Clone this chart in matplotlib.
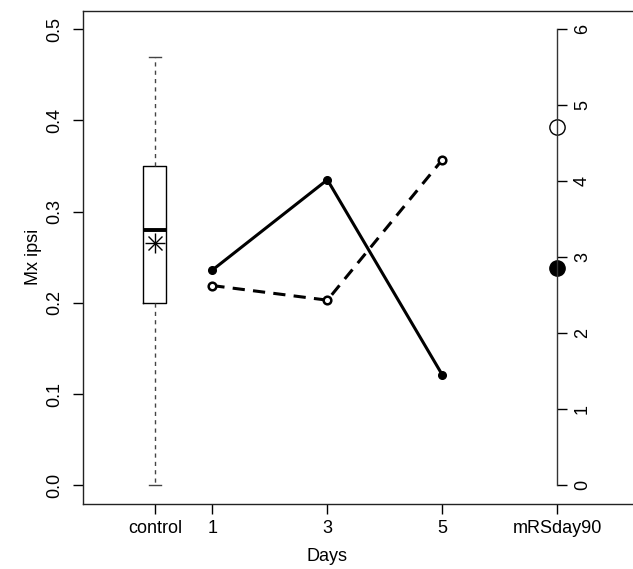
import matplotlib
matplotlib.use("Agg")
import matplotlib.pyplot as plt

plt.rcParams['font.family'] = ['Liberation Sans', 'DejaVu Sans']

# control boxplot summary (Mx ipsi)
ctrl_stats = {'whislo': 0.0, 'q1': 0.20, 'med': 0.28, 'q3': 0.35, 'whishi': 0.47}
ctrl_mean = 0.266

days = [1, 3, 5]
mx_solid = [0.236, 0.335, 0.121]
mx_dashed = [0.219, 0.203, 0.357]

# mRS day 90 (right axis scale)
mrs_open = 4.71
mrs_filled = 2.86

xticks_pos = [0, 1, 3, 5, 7]
xticks_lab = ['control', '1', '3', '5', 'mRSday90']

W, H = 633, 569
fig = plt.figure(figsize=(W / 100, H / 100), dpi=100)
ax = fig.add_axes([83 / W, 1 - 503.6 / H, (643.6 - 83) / W, (503.6 - 11) / H])

ax.bxp([dict(ctrl_stats, fliers=[])], positions=[0], widths=0.4, showfliers=False,
       boxprops=dict(color='black', linewidth=1),
       medianprops=dict(color='black', linewidth=2.8),
       whiskerprops=dict(color='#444444', linewidth=1, linestyle=(0, (3, 3))),
       capprops=dict(color='#444444', linewidth=1), capwidths=0.22)
ax.plot([0], [ctrl_mean], marker='+', ms=14, mew=1, color='black')
ax.plot([0], [ctrl_mean], marker='x', ms=10, mew=1, color='black')

ax.plot(days, mx_solid, color='black', lw=2.2, marker='o', ms=5.5,
        markerfacecolor='black', markeredgecolor='black')
ax.plot(days, mx_dashed, color='black', lw=2.2, linestyle=(0, (4, 2.7)), marker='o', ms=5.5,
        markerfacecolor='white', markeredgecolor='black', mew=1.8)

xlim = (-1.25, 8.5)
ax.set_xlim(xlim)
ax.set_ylim(-0.02, 0.52)
ax.set_yticks([0.0, 0.1, 0.2, 0.3, 0.4, 0.5])
ax.set_yticklabels(['0.0', '0.1', '0.2', '0.3', '0.4', '0.5'], rotation=90, va='center')
ax.set_xticks(xticks_pos)
ax.set_xticklabels(xticks_lab)
ax.tick_params(direction='out', length=7, width=1, labelsize=13, pad=5, colors='black')
ax.tick_params(axis='y', pad=7)
ax.spines['right'].set_visible(False)
for s in ['left', 'top', 'bottom']:
    ax.spines[s].set_linewidth(1)
    ax.spines[s].set_color('#222222')
ax.set_ylabel('Mx ipsi', fontsize=13, labelpad=3)
ax.set_xlabel('Days', fontsize=13, labelpad=8)
ax.xaxis.label.set_x((3 - xlim[0]) / (xlim[1] - xlim[0]))

ax2 = ax.twinx()
ax2.set_ylim(-0.02 * 12, 0.52 * 12)
ax2.set_xlim(xlim)
ax2.spines['right'].set_position(('data', 7))
ax2.spines['right'].set_bounds(0, 6)
ax2.spines['right'].set_linewidth(1)
ax2.spines['right'].set_color('#333333')
for s in ['left', 'top', 'bottom']:
    ax2.spines[s].set_visible(False)
ax2.set_yticks(range(0, 7))
ax2.set_yticklabels([str(i) for i in range(7)], rotation=90, va='center')
ax2.tick_params(direction='out', length=7, width=1, labelsize=13, pad=5)
ax2.plot([7], [mrs_open], marker='o', ms=11, markerfacecolor='white',
         markeredgecolor='black', mew=1, clip_on=False)
ax2.plot([7], [mrs_filled], marker='o', ms=11, color='black', clip_on=False)

fig.savefig('out.png', dpi=100)
